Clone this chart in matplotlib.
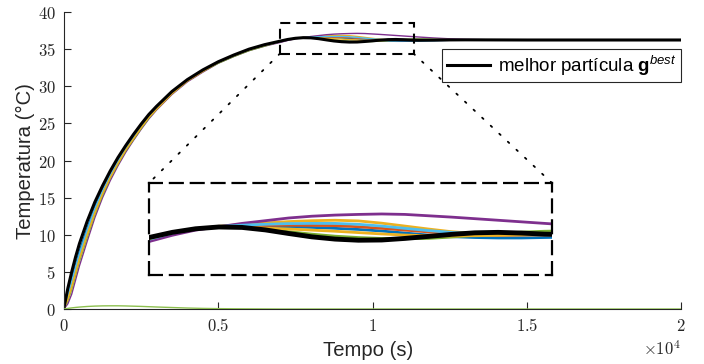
import matplotlib
matplotlib.use('Agg')
import matplotlib.pyplot as plt
from matplotlib.patches import Rectangle, ConnectionPatch
from matplotlib.font_manager import FontProperties

plt.rcParams['mathtext.fontset'] = 'cm'
plt.rcParams['mathtext.bf'] = 'Liberation Sans:bold'
plt.rcParams['mathtext.it'] = 'Liberation Sans:italic'
plt.rcParams['mathtext.rm'] = 'Liberation Sans'
plt.rcParams['mathtext.sf'] = 'Liberation Sans'

# ---------------- data ----------------
t = [0, 125, 250, 375, 500, 750, 1000, 1250, 1500, 1750, 2000, 2250, 2500, 2750, 3000,
     3500, 4000, 4500, 5000, 5500, 6000, 6500,
     7000, 7250, 7500, 7750, 8000, 8250, 8500, 8750, 9000, 9250, 9500, 9750, 10000, 10250, 10500, 10750,
     11000, 11250, 11500,
     12000, 12500, 13000, 14000, 15000, 16000, 18000, 20000]

temp_purple = [0.0, 0.7, 2.0, 3.9, 5.8, 9.1, 12.3, 15.0, 17.3, 19.3, 21.1, 22.7, 24.2, 25.6, 26.8,
               28.9, 30.6, 31.9, 33.1, 34.0, 34.8, 35.4,
               35.89, 36.17, 36.40, 36.55, 36.70, 36.82, 36.94, 37.02, 37.07, 37.10, 37.12, 37.10, 37.04, 36.98,
               36.91, 36.84, 36.77, 36.70, 36.63,
               36.50, 36.39, 36.31, 36.25, 36.23, 36.23, 36.23, 36.23]
temp_yellow = [0.1, 1.5, 3.2, 5.1, 7.0, 10.2, 13.1, 15.6, 17.8, 19.7, 21.5, 23.0, 24.5, 25.8, 27.0,
               29.1, 30.7, 32.0, 33.2, 34.1, 34.9, 35.5,
               35.97, 36.25, 36.45, 36.57, 36.65, 36.72, 36.78, 36.82, 36.84, 36.81, 36.71, 36.58, 36.45, 36.33,
               36.25, 36.21, 36.20, 36.20, 36.21,
               36.22, 36.23, 36.23, 36.23, 36.23, 36.23, 36.23, 36.23]
temp_lightblue = [0.1, 1.9, 3.7, 5.6, 7.4, 10.6, 13.5, 15.9, 18.0, 19.9, 21.6, 23.1, 24.6, 25.9, 27.1,
                  29.1, 30.8, 32.1, 33.2, 34.1, 34.9, 35.5,
                  35.99, 36.27, 36.46, 36.56, 36.62, 36.66, 36.69, 36.70, 36.70, 36.66, 36.58, 36.48, 36.38, 36.30,
                  36.24, 36.20, 36.18, 36.18, 36.19,
                  36.21, 36.22, 36.23, 36.23, 36.23, 36.23, 36.23, 36.23]
temp_orange = [0.1, 1.8, 3.5, 5.5, 7.3, 10.5, 13.4, 15.8, 18.0, 19.9, 21.6, 23.1, 24.6, 25.9, 27.1,
               29.1, 30.8, 32.1, 33.2, 34.1, 34.9, 35.5,
               36.00, 36.28, 36.46, 36.55, 36.59, 36.61, 36.62, 36.61, 36.60, 36.55, 36.48, 36.40, 36.32, 36.25,
               36.20, 36.17, 36.16, 36.17, 36.18,
               36.20, 36.22, 36.23, 36.23, 36.23, 36.23, 36.23, 36.23]
temp_blue = [0.1, 2.2, 4.1, 6.1, 7.9, 11.0, 13.8, 16.1, 18.2, 20.1, 21.7, 23.3, 24.7, 26.0, 27.1,
             29.2, 30.8, 32.1, 33.2, 34.1, 34.9, 35.5,
             36.02, 36.29, 36.47, 36.55, 36.57, 36.57, 36.55, 36.52, 36.48, 36.43, 36.36, 36.27, 36.18, 36.11,
             36.07, 36.05, 36.05, 36.07, 36.09,
             36.14, 36.19, 36.22, 36.23, 36.23, 36.23, 36.23, 36.23]
temp_yellow2 = [0.1, 1.3, 2.9, 4.8, 6.7, 9.9, 12.9, 15.5, 17.7, 19.6, 21.4, 22.9, 24.4, 25.8, 26.9,
                29.0, 30.7, 32.0, 33.2, 34.1, 34.9, 35.5,
                36.02, 36.29, 36.47, 36.54, 36.52, 36.49, 36.45, 36.40, 36.35, 36.29, 36.23, 36.18, 36.15, 36.14,
                36.15, 36.17, 36.19, 36.20, 36.21,
                36.22, 36.23, 36.23, 36.23, 36.23, 36.23, 36.23, 36.23]
temp_green = [0.1, 1.1, 2.6, 4.5, 6.4, 9.6, 12.7, 15.3, 17.6, 19.5, 21.3, 22.8, 24.3, 25.7, 26.9,
              29.0, 30.7, 32.0, 33.1, 34.0, 34.8, 35.4,
              36.03, 36.30, 36.47, 36.54, 36.52, 36.44, 36.33, 36.22, 36.13, 36.07, 36.03, 36.02, 36.03, 36.09,
              36.17, 36.25, 36.31, 36.35, 36.37,
              36.33, 36.28, 36.25, 36.23, 36.23, 36.23, 36.23, 36.23]
temp_best = [0.2, 2.8, 5.0, 7.0, 8.8, 11.8, 14.4, 16.6, 18.6, 20.4, 22.0, 23.5, 24.9, 26.2, 27.3,
             29.3, 30.9, 32.2, 33.3, 34.2, 35.0, 35.6,
             36.07, 36.30, 36.46, 36.54, 36.52, 36.41, 36.25, 36.10, 36.00, 35.95, 35.96, 36.03, 36.12, 36.21,
             36.28, 36.30, 36.27, 36.22, 36.20,
             36.21, 36.24, 36.25, 36.24, 36.23, 36.23, 36.23, 36.23]
low_green = [0.0, 0.08, 0.15, 0.21, 0.26, 0.34, 0.39, 0.42, 0.43, 0.43, 0.41, 0.38, 0.35, 0.31, 0.27,
             0.20, 0.13, 0.08, 0.05, 0.03, 0.02, 0.01,
             0.0, 0.0, 0.0, 0.0, 0.0, 0.0, 0.0, 0.0, 0.0, 0.0, 0.0, 0.0, 0.0, 0.0, 0.0, 0.0, 0.0, 0.0, 0.0,
             0.0, 0.0, 0.0, 0.0, 0.0, 0.0, 0.0, 0.0]

series = [(temp_blue, '#0072BD'), (temp_orange, '#D95319'), (temp_yellow, '#EDB120'),
          (temp_purple, '#7E2F8E'), (temp_green, '#77AC30'), (temp_lightblue, '#4DBEEE'),
          (temp_yellow2, '#EDB120')]

xticks = [0, 5000, 10000, 15000, 20000]
xticklabels = ['0', '0.5', '1', '1.5', '2']
yticks = [0, 5, 10, 15, 20, 25, 30, 35, 40]

zoom_x = (7000, 11330)
zoom_y = (34.4, 38.5)

legend_label = r'melhor partícula $\mathbf{g}^{\mathit{best}}$'

# ---------------- figure ----------------
W, H = 704, 364
fig = plt.figure(figsize=(W / 100, H / 100), dpi=100)
ax = fig.add_axes([64 / W, 1 - 309 / H, 617 / W, 297 / H])

ax.plot(t, low_green, color='#8DBF4F', lw=1.0, zorder=3)
for vals, c in series:
    ax.plot(t, vals, color=c, lw=1.0)
best_line, = ax.plot(t, temp_best, color='k', lw=2.2)

ax.set_xlim(0, 20000)
ax.set_ylim(0, 40)
for s in ['top', 'right']:
    ax.spines[s].set_visible(False)
for s in ['left', 'bottom']:
    ax.spines[s].set_color('#262626')
    ax.spines[s].set_linewidth(0.8)
ax.set_xticks(xticks)
ax.set_xticklabels(['$' + l + '$' for l in xticklabels])
ax.set_yticks(yticks)
ax.set_yticklabels(['$%d$' % v for v in yticks])
ax.tick_params(direction='in', length=5, width=0.8, color='#262626', labelsize=12,
               labelcolor='#262626', pad=6)

lab_font = dict(family='Liberation Sans', size=14.6, color='#262626')
ax.set_xlabel('Tempo (s)', **lab_font)
ax.xaxis.set_label_coords((368 - 64) / 617, (309 - 350) / 297)
ax.xaxis.label.set_va('center')
ax.set_ylabel('Temperatura (°C)', **lab_font)
ax.yaxis.set_label_coords((25 - 64) / 617, (309 - 161) / 297)
ax.yaxis.label.set_va('center')
ax.text(1.0, (309 - 350) / 297, r'$\times10^4$', transform=ax.transAxes, ha='right', va='center',
        fontsize=12, color='#262626')

# zoom rectangle
rect = Rectangle((zoom_x[0], zoom_y[0]), zoom_x[1] - zoom_x[0], zoom_y[1] - zoom_y[0],
                 fill=False, ec='k', lw=1.5, ls=(0, (4.8, 2.9)), zorder=5)
ax.add_patch(rect)

# legend
fp = FontProperties(family='Liberation Sans', size=13.5, math_fontfamily='custom')
leg = ax.legend([best_line], [legend_label], loc='upper right', bbox_to_anchor=(1.0, (309 - 49) / 297),
                borderaxespad=0, frameon=True, fancybox=False, framealpha=1, edgecolor='#262626',
                prop=fp, handlelength=2.3, handletextpad=0.4, borderpad=0.25)
leg.get_frame().set_linewidth(0.8)

# inset
axins = fig.add_axes([149 / W, 1 - 275 / H, 403 / W, 92 / H])
for vals, c in series:
    axins.plot(t, vals, color=c, lw=2.0)
axins.plot(t, temp_best, color='k', lw=3.5)
axins.set_xlim(*zoom_x)
axins.set_ylim(*zoom_y)
axins.set_xticks([])
axins.set_yticks([])
for s in axins.spines.values():
    s.set_linestyle((0, (5.8, 3.6)))
    s.set_linewidth(1.6)
    s.set_color('k')

for xa, xb in [(zoom_x[0], 0), (zoom_x[1], 1)]:
    cp = ConnectionPatch(xyA=(xa, zoom_y[0]), coordsA=ax.transData, xyB=(xb, 1), coordsB=axins.transAxes,
                         ls=(0, (1, 5.5)), lw=1.3, color='k')
    fig.add_artist(cp)

fig.savefig('out.png', dpi=100)
